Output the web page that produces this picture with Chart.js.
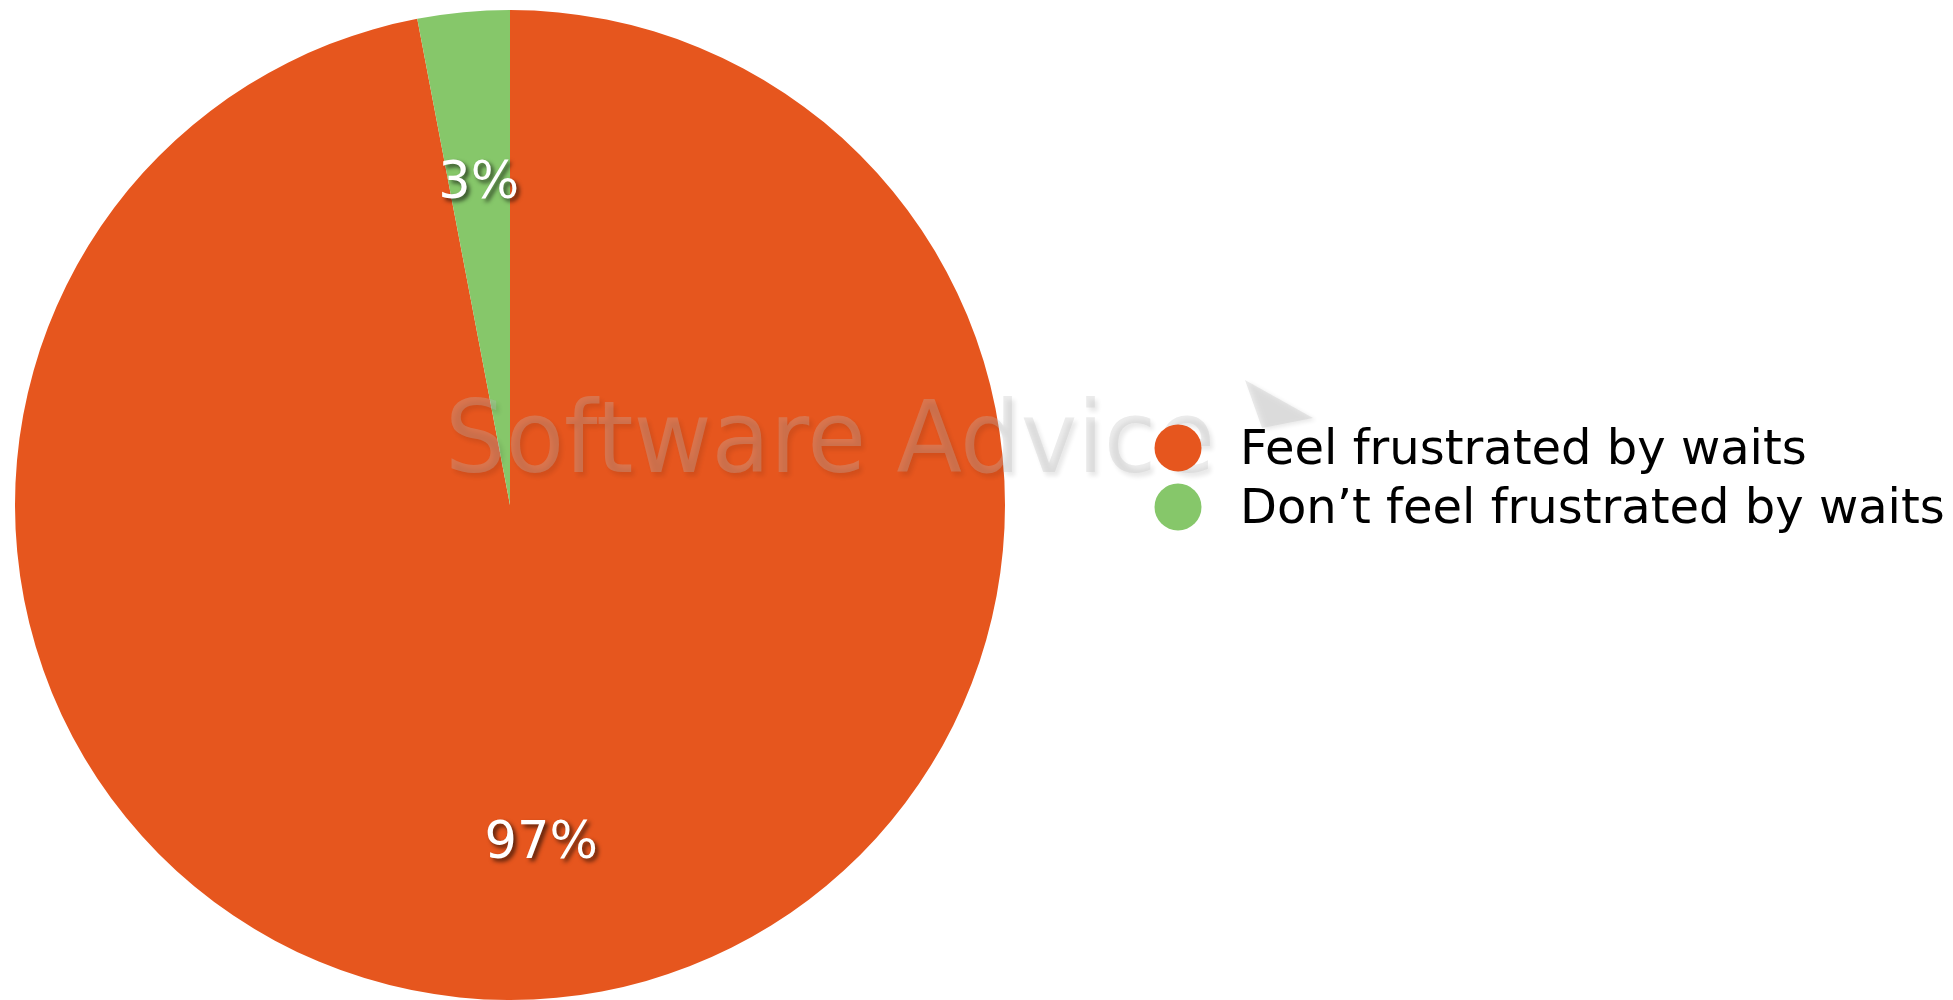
<!DOCTYPE html>
<html>
<head>
<meta charset="utf-8">
<script src="https://cdn.jsdelivr.net/npm/chart.js@4/dist/chart.umd.min.js"></script>
<style>
	html, body { margin: 0; padding: 0; background: #fff; }
	#wrap { width: 1953px; height: 1000px; position: relative; }
</style>
</head>
<body>
<div id="wrap"><canvas id="myChart"></canvas></div>
<script>
const LABELS = ['Feel frustrated by waits', 'Don\u2019t feel frustrated by waits'];
const VALUES = [97, 3];
const COLORS = ['rgb(230, 86, 30)', 'rgb(134, 199, 106)'];
const WATERMARK = 'Software Advice';

// percentage labels inside each slice, white with a drop shadow
const sliceLabels = {
	id: 'sliceLabels',
	afterDatasetsDraw(chart) {
		const { ctx } = chart;
		const meta = chart.getDatasetMeta(0);
		const total = VALUES.reduce((a, b) => a + b, 0);
		ctx.save();
		ctx.font = '51px "DejaVu Sans", Verdana, sans-serif';
		ctx.fillStyle = '#fff';
		ctx.textAlign = 'center';
		ctx.textBaseline = 'middle';
		ctx.shadowColor = 'rgba(0, 0, 0, 0.65)';
		ctx.shadowOffsetX = 3;
		ctx.shadowOffsetY = 3;
		ctx.shadowBlur = 4;
		meta.data.forEach((arc, i) => {
			const { x, y, startAngle, endAngle, outerRadius } = arc.getProps(['x', 'y', 'startAngle', 'endAngle', 'outerRadius'], true);
			const mid = (startAngle + endAngle) / 2;
			const r = outerRadius * 0.67;
			const pct = Math.round(VALUES[i] / total * 100) + '%';
			ctx.fillText(pct, x + Math.cos(mid) * r, y + Math.sin(mid) * r + 10);
		});
		ctx.restore();
	}
};

// faint embossed watermark across the middle
const watermark = {
	id: 'watermark',
	afterDraw(chart) {
		const { ctx } = chart;
		ctx.save();
		ctx.font = '100px "DejaVu Sans", Verdana, sans-serif';
		ctx.textBaseline = 'alphabetic';
		ctx.fillStyle = 'rgba(190, 190, 190, 0.3)';
		ctx.shadowColor = 'rgba(0, 0, 0, 0.3)';
		ctx.shadowOffsetX = 3;
		ctx.shadowOffsetY = 4;
		ctx.shadowBlur = 4;
		ctx.fillText(WATERMARK, 445, 472, 770);
		// little arrow mark after the text
		ctx.beginPath();
		ctx.moveTo(1245, 380);
		ctx.lineTo(1313, 418);
		ctx.lineTo(1262, 428);
		ctx.closePath();
		ctx.fillStyle = 'rgba(190, 190, 190, 0.3)';
		ctx.shadowOffsetY = 2;
		ctx.fill();
		ctx.restore();
	}
};

// legend on the right: filled circles and text
const sideLegend = {
	id: 'sideLegend',
	afterDraw(chart) {
		const { ctx } = chart;
		const colors = chart.data.datasets[0].backgroundColor;
		ctx.save();
		ctx.font = '48px "DejaVu Sans", Verdana, sans-serif';
		ctx.textBaseline = 'middle';
		chart.data.labels.forEach((label, i) => {
			const cy = 448 + i * 59;
			ctx.beginPath();
			ctx.arc(1178, cy, 23.5, 0, Math.PI * 2);
			ctx.fillStyle = colors[i];
			ctx.fill();
			ctx.fillStyle = '#000';
			ctx.fillText(label, 1240, cy + 4);
		});
		ctx.restore();
	}
};

new Chart(document.getElementById('myChart'), {
	type: 'pie',
	data: {
		labels: LABELS,
		datasets: [{
			data: VALUES,
			backgroundColor: COLORS,
			borderWidth: 0,
			hoverOffset: 0
		}]
	},
	options: {
		responsive: true,
		maintainAspectRatio: false,
		animation: false,
		radius: 495,
		layout: {
			padding: { left: 15, right: 948, top: 10, bottom: 0 }
		},
		plugins: {
			legend: { display: false },
			tooltip: { enabled: false }
		}
	},
	plugins: [sliceLabels, watermark, sideLegend]
});
</script>
</body>
</html>
